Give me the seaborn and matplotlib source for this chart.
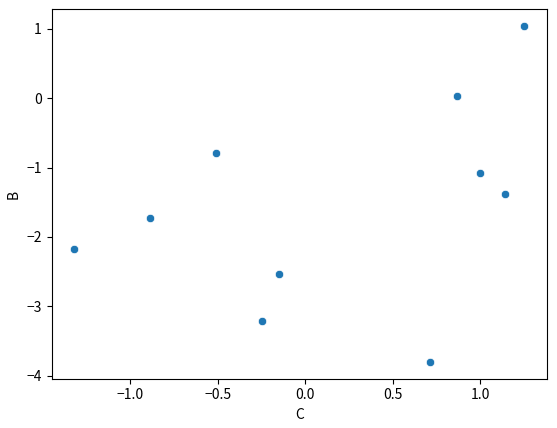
import matplotlib
matplotlib.use("Agg")
import matplotlib.pyplot as plt
import seaborn as sns
import pandas as pd

C = [-1.320, -0.886, -0.510, -0.248, -0.148, 0.711, 0.865, 0.996, 1.144, 1.253]
B = [-2.173, -1.727, -0.791, -3.209, -2.532, -3.799, 0.029, -1.079, -1.377, 1.036]

plt.rcParams['font.family'] = ['Noto Sans CJK SC', 'DejaVu Sans']
df = pd.DataFrame({"C": C, "B": B})

fig = plt.figure(figsize=(5.57, 4.28), dpi=100)
ax = fig.add_axes([51.7 / 557, 1 - 378.7 / 428, (547 - 51.7) / 557, (378.7 - 9.3) / 428])
sns.scatterplot(data=df, x="C", y="B", ax=ax)
fig.savefig("out.png", dpi=100)
